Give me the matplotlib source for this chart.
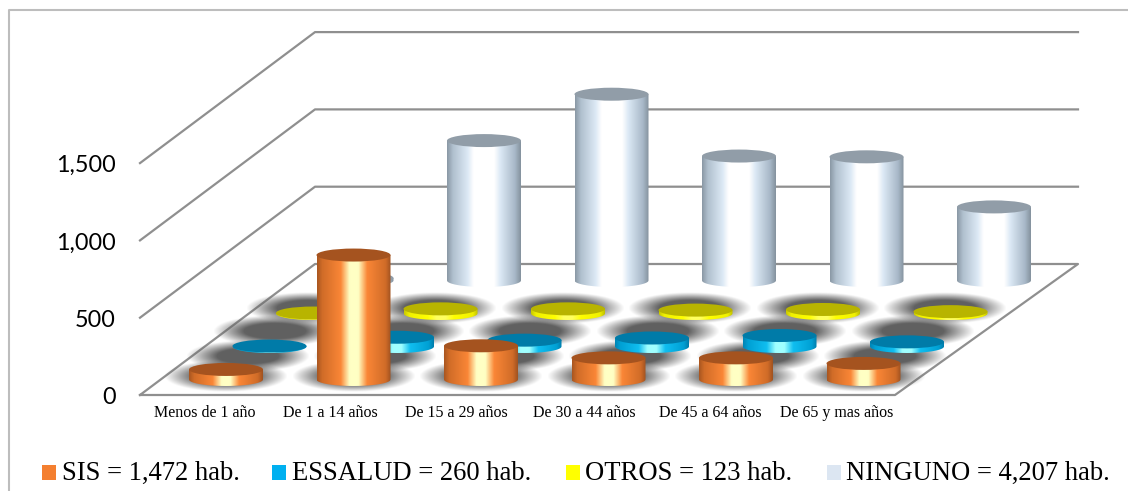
import matplotlib
matplotlib.use("Agg")
import matplotlib.pyplot as plt
import numpy as np
from matplotlib.colors import LinearSegmentedColormap
from matplotlib.patches import Ellipse, PathPatch, Rectangle
from matplotlib.path import Path

# Data
categories = ["Menos de 1 año", "De 1 a 14 años", "De 15 a 29 años",
              "De 30 a 44 años", "De 45 a 64 años", "De 65 y mas años"]
sis = [65, 805, 218, 140, 140, 104]
essalud = [3, 60, 41, 55, 71, 30]
otros = [3, 30, 30, 22, 26, 12]
ninguno = [16, 905, 1205, 805, 800, 476]
y_ticks = [0, 500, 1000, 1500]
y_tick_labels = ["0", "500", "1,000", "1,500"]
legend_labels = ["SIS = 1,472 hab.", "ESSALUD = 260 hab.", "OTROS = 123 hab.", "NINGUNO = 4,207 hab."]
legend_colors = ["#F47F30", "#00B0F0", "#FFFF00", "#DCE6F2"]

series = [sis, essalud, otros, ninguno]

# side gradient and top colour of each series
side_pos = [
    [0, 0.07, 0.32, 0.44, 0.56, 0.68, 0.93, 1],
    [0, 0.07, 0.32, 0.44, 0.56, 0.68, 0.93, 1],
    [0, 0.07, 0.32, 0.44, 0.56, 0.68, 0.93, 1],
    [0, 0.08, 0.28, 0.36, 0.64, 0.72, 0.92, 1],
]
side_stops = [
    ["#A85620", "#D06C28", "#FA8636", "#FFFFC4", "#FFFFC4", "#FA8636", "#D06C28", "#A05220"],
    ["#0084B4", "#00A0D4", "#10BEF0", "#A0FFFF", "#A0FFFF", "#10BEF0", "#00A0D4", "#007CAA"],
    ["#C8C800", "#F0F000", "#FFFF00", "#FFFF60", "#FFFF60", "#FFFF00", "#F0F000", "#C0C000"],
    ["#8A98A5", "#B0C0CE", "#DCE9F5", "#FFFFFF", "#FFFFFF", "#DCE9F5", "#A8B8C8", "#84929E"],
]
top_colors = ["#A5531F", "#007BA8", "#B8B400", "#919DA8"]

# oblique projection of the chart box onto the figure (pixels)
FLOOR_Y = 395
BACK_Y = 264
FRONT_LEFT = 140
BACK_LEFT = 315
FRONT_RIGHT = 895
BACK_RIGHT = 1078
PX_PER_UNIT = 77.3 / 500
RX = 37
RY = 6.5


def base_pos(c, s):
    return 226 + c * 127.5 + s * 43.5, 379.5 - s * 33


def height_px(v):
    return v * PX_PER_UNIT


fig = plt.figure(figsize=(11.28, 4.91), dpi=100)
ax = fig.add_axes([0, 0, 1, 1])
ax.axis("off")

# frame round the chart
ax.plot([8.5, 8.5, 1128], [491, 10, 10], color="#BDBDBD", lw=1.5, zorder=1)

# walls and floor
grid_color = "#8F8F8F"
for t in y_ticks:
    h = height_px(t)
    if t == 0:
        ax.plot([FRONT_LEFT, BACK_LEFT, BACK_RIGHT, FRONT_RIGHT, FRONT_LEFT],
                [FLOOR_Y, BACK_Y, BACK_Y, FLOOR_Y, FLOOR_Y], color=grid_color, lw=1.6, zorder=2)
    else:
        ax.plot([FRONT_LEFT, BACK_LEFT, BACK_RIGHT], [FLOOR_Y - h, BACK_Y - h, BACK_Y - h],
                color=grid_color, lw=1.6, zorder=2)
for t, lab in zip(y_ticks, y_tick_labels):
    ax.text(116, FLOOR_Y - height_px(t) + 9, lab, ha="right", va="baseline",
            family="Lato", fontsize=16.8, color="black")

# soft shadows on the floor
shadow_shift = [(0, -3), (-22, 10), (-38, 18), (-49, 28)]
gx, gy = np.meshgrid(np.linspace(-1, 1, 120), np.linspace(-1, 1, 60))
r = np.sqrt(gx ** 2 + gy ** 2)
shadow = np.zeros(r.shape + (4,))
shadow[..., :3] = 0.38
shadow[..., 3] = np.clip((1 - r) / 0.5, 0, 1)
for s in range(4):
    for c in range(len(categories)):
        x, y = base_pos(c, s)
        x += shadow_shift[s][0]
        y += shadow_shift[s][1]
        ax.imshow(shadow, extent=(x - 62, x + 62, y + 16, y - 16), aspect="auto",
                  interpolation="bilinear", zorder=3)

# cylinders, back row first
zo = 4
for s in [3, 2, 1, 0]:
    cmap = LinearSegmentedColormap.from_list("side", list(zip(side_pos[s], side_stops[s])))
    grad = np.linspace(0, 1, 256).reshape(1, -1)
    for c in range(len(categories)):
        x, y = base_pos(c, s)
        h = height_px(series[s][c])
        top = y - h
        # body outline: sides plus lower half of the base ellipse
        t = np.linspace(0, np.pi, 40)
        verts = [(x - RX, top)] + [(x - RX * np.cos(a), y + RY * np.sin(a)) for a in t] + [(x + RX, top), (x - RX, top)]
        body = PathPatch(Path(verts), transform=ax.transData, facecolor="none", edgecolor="none")
        ax.add_patch(body)
        im = ax.imshow(grad, cmap=cmap, extent=(x - RX, x + RX, y + RY + 1, top), aspect="auto",
                       interpolation="bilinear", zorder=zo)
        im.set_clip_path(body)
        ax.add_patch(Ellipse((x, top), 2 * RX, 2 * RY, facecolor=top_colors[s], edgecolor="none", zorder=zo + 0.5))
        zo += 1

# category labels
label_x = [205, 330, 456, 584, 710, 837]
for lx, lab in zip(label_x, categories):
    ax.text(lx, 417, lab, ha="center", va="baseline", family="Liberation Serif", fontsize=11.5, color="black")

# legend
legend_x = [42, 272, 566, 827]
text_x = [62, 292, 585, 846]
for lx, tx, lab, col in zip(legend_x, text_x, legend_labels, legend_colors):
    ax.add_patch(Rectangle((lx, 465), 14, 15, facecolor=col, edgecolor="none", zorder=5))
    ax.text(tx, 480, lab, ha="left", va="baseline", family="Liberation Serif", fontsize=19.2, color="black")

ax.set_xlim(0, 1128)
ax.set_ylim(491, 0)
fig.savefig("out.png", dpi=100)
